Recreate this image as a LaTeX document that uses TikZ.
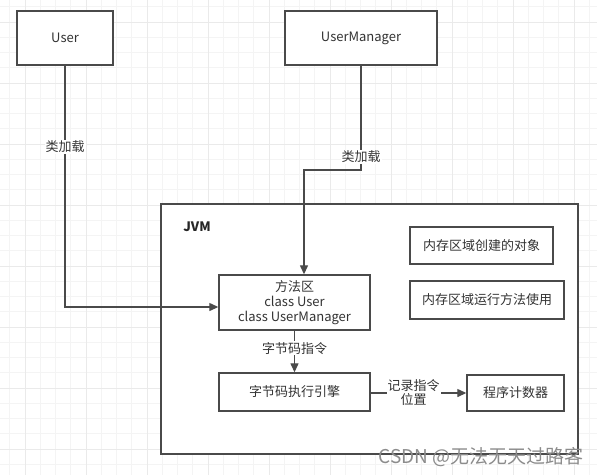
\documentclass[tikz,border=0pt]{standalone}
\usepackage{fontspec}
\setmainfont{Noto Sans CJK SC}
\usetikzlibrary{arrows.meta,positioning}
\definecolor{linec}{HTML}{4A4A4A}
\definecolor{gridminor}{HTML}{F4F4F4}
\definecolor{gridmajor}{HTML}{EAEAEA}
\tikzset{
  box/.style={draw=linec, line width=1.4pt, fill=white, inner sep=0pt, font=\fontsize{13}{15}\selectfont, text=black!80, align=center},
  conn/.style={draw=linec, line width=1.3pt},
  arr/.style={conn, -{Triangle[length=9pt,width=8pt]}},
  elabel/.style={fill=white, inner sep=1pt, font=\fontsize{13}{15}\selectfont, text=black!80, align=center}
}
\begin{document}
\begin{tikzpicture}[x=1pt,y=-1pt]
\useasboundingbox (0,0) rectangle (597,475);
\fill[white] (0,0) rectangle (597,475);
% grid
\foreach \i in {0,...,39} {
  \pgfmathsetmacro{\gx}{9.75+15.25*\i}
  \draw[gridminor, line width=0.8pt] (\gx,0) -- (\gx,475);
}
\foreach \i in {0,...,31} {
  \pgfmathsetmacro{\gy}{6.75+15.25*\i}
  \draw[gridminor, line width=0.8pt] (0,\gy) -- (597,\gy);
}
\foreach \i in {0,...,9} {
  \pgfmathsetmacro{\gx}{25+61*\i}
  \draw[gridmajor, line width=1pt] (\gx,0) -- (\gx,475);
}
\foreach \i in {0,...,7} {
  \pgfmathsetmacro{\gy}{22+61*\i}
  \draw[gridmajor, line width=1pt] (0,\gy) -- (597,\gy);
}
% nodes
\node[box, minimum width=96pt, minimum height=54pt] (user) at (65,38) {User};
\node[box, minimum width=152pt, minimum height=54pt] (um) at (361,38) {UserManager};
\node[box, minimum width=417pt, minimum height=250pt] (jvm) at (369.5,329) {};
\node[font=\fontsize{13}{15}\selectfont\bfseries, text=black!85] (jvmt) at (197,227) {JVM};
\node[box, minimum width=151pt, minimum height=55pt, font=\fontsize{13}{15}\selectfont] (meth) at (294.5,302.5) {方法区\\class User\\class UserManager};
\node[box, minimum width=143pt, minimum height=37pt] (obj) at (481.5,245.5) {内存区域创建的对象};
\node[box, minimum width=154pt, minimum height=38pt] (run) at (487,300) {内存区域运行方法使用};
\node[box, minimum width=151pt, minimum height=38pt] (exec) at (294.5,392) {字节码执行引擎};
\node[box, minimum width=97pt, minimum height=36pt] (pc) at (515.5,393) {程序计数器};
% connectors
\coordinate (ubend) at (65,307);
\coordinate (methin) at (meth.west |- ubend);
\draw[arr] (user.south) -- (ubend) -- (methin);
\node[elabel] (l1) at (65,147) {类加载};
\coordinate (umbend) at (361,170);
\coordinate (methtop) at ([xshift=9.5pt]meth.north);
\coordinate (umbend2) at (methtop |- umbend);
\draw[arr] (um.south) -- (umbend) -- (umbend2) -- (methtop);
\node[elabel] (l2) at (361,157) {类加载};
\draw[arr] (meth.south) -- (exec.north) node[elabel, pos=0.42] (l3) {字节码指令};
\draw[arr] (exec.east |- pc.west) -- (pc.west) node[elabel, pos=0.45, font=\fontsize{13}{14}\selectfont] (l4) {记录指令\\位置};
% watermark
\node[text=black!45, font=\fontsize{19}{22}\selectfont, anchor=east, inner sep=0pt] (wm) at (584,457) {CSDN @无法无天过路客};
\end{tikzpicture}
\end{document}
